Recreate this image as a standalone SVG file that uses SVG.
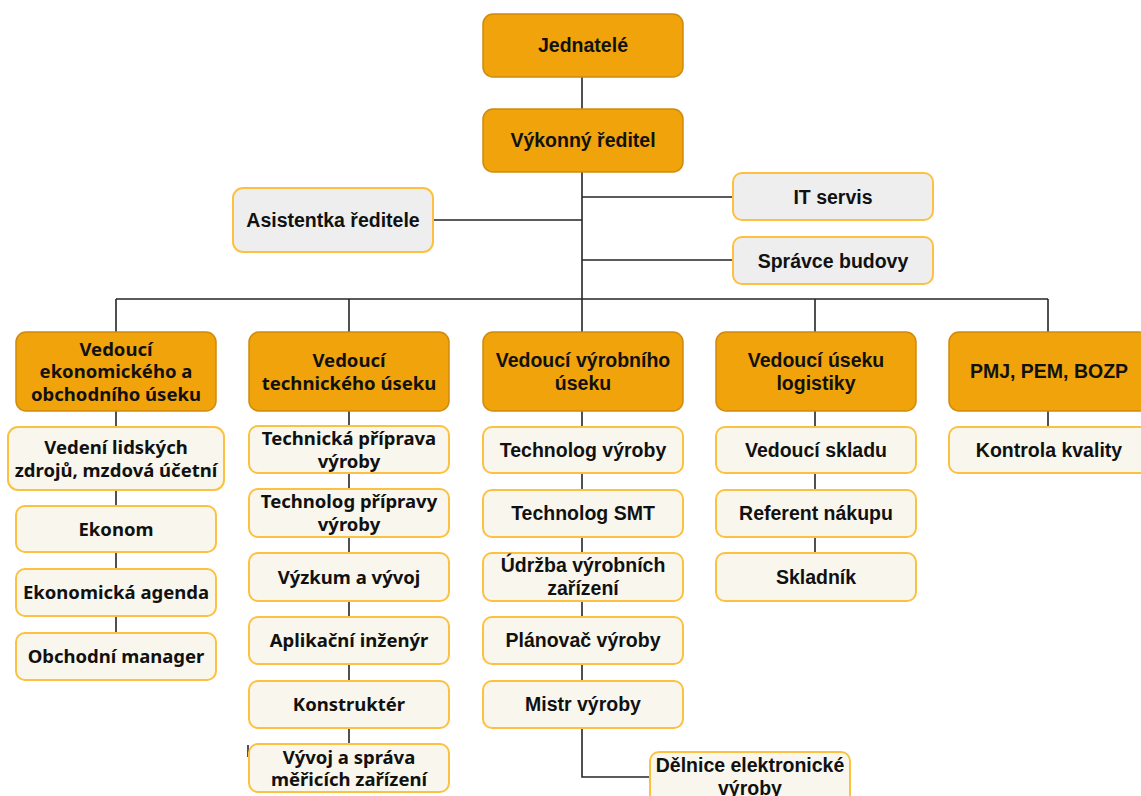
<svg xmlns="http://www.w3.org/2000/svg" width="1141" height="796" viewBox="0 0 1141 796">
<style>
.o{fill:#f0a30a;stroke:#cf8b0c;stroke-width:1.5}
.c{fill:#f9f7ed;stroke:#fcc140;stroke-width:2}
.g{fill:#eeeeee;stroke:#fcc140;stroke-width:2}
.a{font-family:'Liberation Sans',Arial,sans-serif;font-weight:bold;font-size:19.5px;fill:#111;text-anchor:middle}
.n{font-family:'Noto Sans','Open Sans',sans-serif;font-weight:bold;font-size:18.5px;fill:#111;text-anchor:middle}
.l{fill:none;stroke:#262626;stroke-width:1.6}
</style>
<rect width="1141" height="796" fill="#fff"/>
<g id="connectors" class="l">
<path d="M582 77V109M582 172V299M433 220H582M582 197H733M582 260H733"/>
<path d="M116 299H1048M116 299V332M349 299V332M582 299V332M815 299V332M1048 299V332"/>
<path d="M116 411V427M116 490V506M116 552V569M116 616V633"/>
<path d="M349 411V426M349 473V489M349 537V553M349 601V617M349 664V681M349 728V744"/>
<path d="M582 411V427M582 473V490M582 537V553M582 601V617M582 664V681M582 728V777H650"/>
<path d="M815 411V427M815 473V490M815 537V553"/>
<path d="M1048 411V427"/>
<path d="M248 745V757"/>
</g>
<g id="jednatele"><rect class="o" x="483" y="14" width="200" height="63" rx="10"/><text class="a" x="583" y="52">Jednatelé</text></g>
<g id="reditel"><rect class="o" x="483" y="109" width="200" height="63" rx="10"/><text class="a" x="583" y="147">Výkonný ředitel</text></g>
<g id="asistentka"><rect class="g" x="233" y="188" width="200" height="64" rx="10"/><text class="a" x="333" y="227">Asistentka ředitele</text></g>
<g id="itservis"><rect class="g" x="733" y="173" width="200" height="47" rx="9"/><text class="a" x="833" y="204">IT servis</text></g>
<g id="spravce"><rect class="g" x="733" y="237" width="200" height="47" rx="9"/><text class="a" x="833" y="268">Správce budovy</text></g>

<g id="ekonomicky"><rect class="o" x="16" y="332" width="200" height="79" rx="10"/><text class="n" x="116" y="356">Vedoucí</text><text class="n" x="116" y="378">ekonomického a</text><text class="n" x="116" y="401">obchodního úseku</text></g>
<g id="technicky"><rect class="o" x="249" y="332" width="200" height="79" rx="10"/><text class="n" x="349" y="367">Vedoucí</text><text class="n" x="349" y="390">technického úseku</text></g>
<g id="vyrobni"><rect class="o" x="483" y="332" width="200" height="79" rx="10"/><text class="a" x="583" y="367">Vedoucí výrobního</text><text class="a" x="583" y="390">úseku</text></g>
<g id="logistika"><rect class="o" x="716" y="332" width="200" height="79" rx="10"/><text class="a" x="816" y="367">Vedoucí úseku</text><text class="a" x="816" y="390">logistiky</text></g>
<g id="pmj"><rect class="o" x="949" y="332" width="200" height="79" rx="10"/><text class="a" x="1049" y="378">PMJ, PEM, BOZP</text></g>

<g id="lidske"><rect class="c" x="8" y="427" width="216" height="63" rx="10"/><text class="n" x="116" y="454">Vedení lidských</text><text class="n" x="116" y="477">zdrojů, mzdová účetní</text></g>
<g id="ekonom"><rect class="c" x="16" y="506" width="200" height="46" rx="9"/><text class="n" x="116" y="536">Ekonom</text></g>
<g id="agenda"><rect class="c" x="16" y="569" width="200" height="47" rx="9"/><text class="n" x="116" y="599">Ekonomická agenda</text></g>
<g id="obchodni"><rect class="c" x="16" y="633" width="200" height="47" rx="9"/><text class="n" x="116" y="663">Obchodní manager</text></g>

<g id="tech1"><rect class="c" x="249" y="426" width="200" height="47" rx="9"/><text class="n" x="349" y="445">Technická příprava</text><text class="n" x="349" y="468">výroby</text></g>
<g id="tech2"><rect class="c" x="249" y="489" width="200" height="48" rx="9"/><text class="n" x="349" y="508">Technolog přípravy</text><text class="n" x="349" y="531">výroby</text></g>
<g id="tech3"><rect class="c" x="249" y="553" width="200" height="48" rx="9"/><text class="n" x="349" y="584">Výzkum a vývoj</text></g>
<g id="tech4"><rect class="c" x="249" y="617" width="200" height="47" rx="9"/><text class="n" x="349" y="647">Aplikační inženýr</text></g>
<g id="tech5"><rect class="c" x="249" y="681" width="200" height="47" rx="9"/><text class="n" x="349" y="711">Konstruktér</text></g>
<g id="tech6"><rect class="c" x="249" y="744" width="200" height="48" rx="9"/><text class="n" x="349" y="764">Vývoj a správa</text><text class="n" x="349" y="786">měřicích zařízení</text></g>

<g id="vyr1"><rect class="c" x="483" y="427" width="200" height="46" rx="9"/><text class="a" x="583" y="457">Technolog výroby</text></g>
<g id="vyr2"><rect class="c" x="483" y="490" width="200" height="47" rx="9"/><text class="a" x="583" y="520">Technolog SMT</text></g>
<g id="vyr3"><rect class="c" x="483" y="553" width="200" height="48" rx="9"/><text class="a" x="583" y="572">Údržba výrobních</text><text class="a" x="583" y="595">zařízení</text></g>
<g id="vyr4"><rect class="c" x="483" y="617" width="200" height="47" rx="9"/><text class="a" x="583" y="647">Plánovač výroby</text></g>
<g id="vyr5"><rect class="c" x="483" y="681" width="200" height="47" rx="9"/><text class="a" x="583" y="711">Mistr výroby</text></g>
<g id="delnice"><rect class="c" x="650" y="752" width="200" height="60" rx="9"/><text class="a" x="750" y="772">Dělnice elektronické</text><text class="a" x="750" y="795">výroby</text></g>

<g id="log1"><rect class="c" x="716" y="427" width="200" height="46" rx="9"/><text class="a" x="816" y="457">Vedoucí skladu</text></g>
<g id="log2"><rect class="c" x="716" y="490" width="200" height="47" rx="9"/><text class="a" x="816" y="520">Referent nákupu</text></g>
<g id="log3"><rect class="c" x="716" y="553" width="200" height="48" rx="9"/><text class="a" x="816" y="584">Skladník</text></g>

<g id="kvalita"><rect class="c" x="949" y="427" width="200" height="46" rx="9"/><text class="a" x="1049" y="457">Kontrola kvality</text></g>
</svg>
